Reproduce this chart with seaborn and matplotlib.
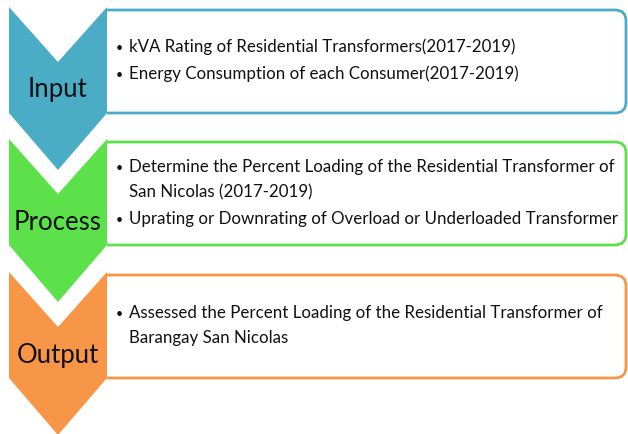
import matplotlib
matplotlib.use("Agg")
import matplotlib.pyplot as plt
from matplotlib.patches import Polygon, FancyBboxPatch, Rectangle
import seaborn as sns

sns.set_theme(style="white")
plt.rcParams['font.family'] = ['Lato', 'DejaVu Sans']

# ---- content ----
stages = ["Input", "Process", "Output"]
stage_colors = ["#4BACC6", "#5CE14B", "#F79646"]
bullets_input = ["kVA Rating of Residential Transformers(2017-2019)",
                 "Energy Consumption of each Consumer(2017-2019)"]
bullets_process = ["Determine the Percent Loading of the Residential Transformer of\nSan Nicolas (2017-2019)",
                   "Uprating or Downrating of Overload or Underloaded Transformer"]
bullets_output = ["Assessed the Percent Loading of the Residential Transformer of\nBarangay San Nicolas"]
bullets = [bullets_input, bullets_process, bullets_output]

W, H = 628, 434
fig = plt.figure(figsize=(W / 100, H / 100), dpi=100)
ax = fig.add_axes([0, 0, 1, 1])
ax.set_xlim(0, W)
ax.set_ylim(H, 0)
ax.axis("off")

x0, x1 = 9, 107
xm = (x0 + x1) / 2
tops = [7, 139, 272]
first_y = [40, 28, 41]
for i, (name, col, items) in enumerate(zip(stages, stage_colors, bullets)):
    t = tops[i]
    # box behind chevron (left part clipped at the chevron edge)
    box = FancyBboxPatch((80, t + 3), 546, 103,
                         boxstyle="round,pad=0,rounding_size=11",
                         facecolor="white", edgecolor=col, linewidth=2.0, zorder=1)
    ax.add_patch(box)
    clip = Rectangle((x1 - 0.5, 0), W, H, transform=ax.transData)
    box.set_clip_path(clip)
    chev = Polygon([(x0, t), (xm, t + 55), (x1, t), (x1, t + 106),
                    (xm, t + 163), (x0, t + 106)], closed=True,
                   facecolor=col, edgecolor="none", zorder=2)
    ax.add_patch(chev)
    ax.text(xm, t + 83, name, ha="center", va="center", fontsize=18.5,
            color="#111111", zorder=3)
    # bullets
    y = t + first_y[i]
    for item in items:
        ax.text(116, y + 1, "\u2022", ha="left", va="center", fontsize=9,
                color="#111111", zorder=3)
        lines = item.split("\n")
        for j, ln in enumerate(lines):
            ax.text(129, y + j * 25, ln, ha="left", va="center", fontsize=12.2,
                    color="#111111", zorder=3)
        y += 25 * (len(lines) - 1) + 27

fig.savefig("out.png", dpi=100)
